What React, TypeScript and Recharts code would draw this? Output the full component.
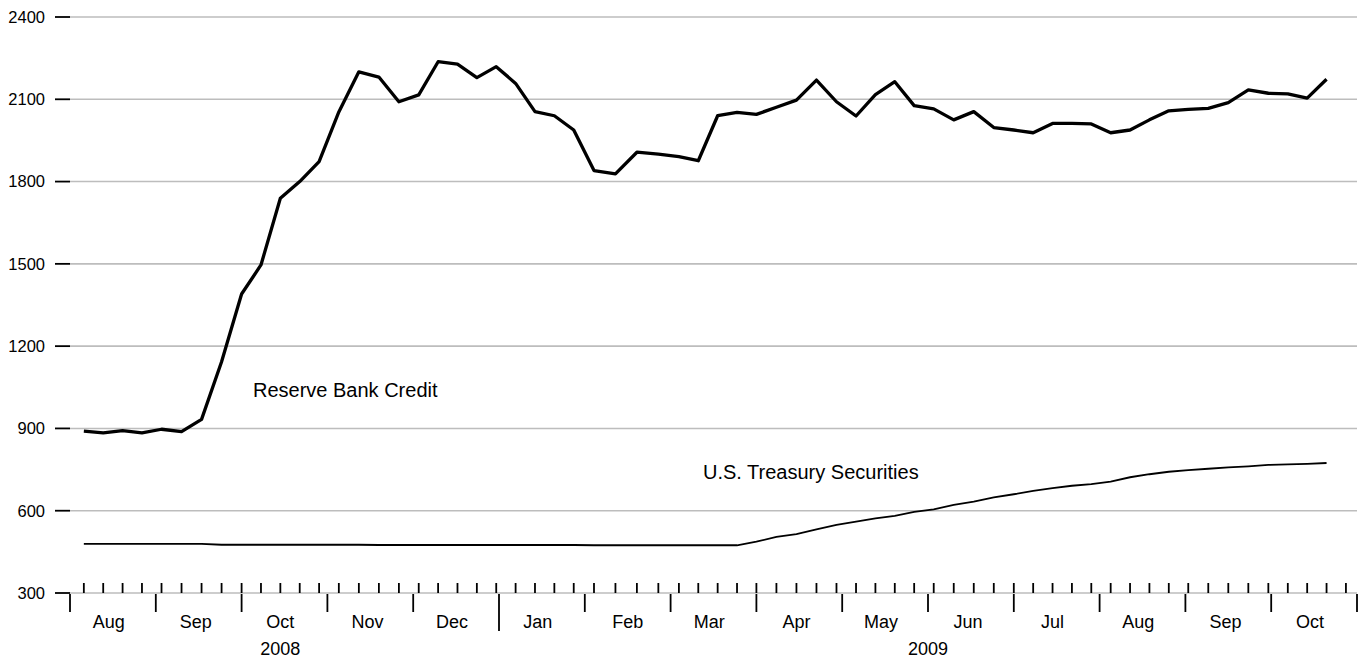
import { LineChart, Line, XAxis, YAxis, CartesianGrid } from 'recharts';

// weekly observations (Wednesdays)
const DATES = [
  '2008-08-06', '2008-08-13', '2008-08-20', '2008-08-27',
  '2008-09-03', '2008-09-10', '2008-09-17', '2008-09-24',
  '2008-10-01', '2008-10-08', '2008-10-15', '2008-10-22', '2008-10-29',
  '2008-11-05', '2008-11-12', '2008-11-19', '2008-11-26',
  '2008-12-03', '2008-12-10', '2008-12-17', '2008-12-24', '2008-12-31',
  '2009-01-07', '2009-01-14', '2009-01-21', '2009-01-28',
  '2009-02-04', '2009-02-11', '2009-02-18', '2009-02-25',
  '2009-03-04', '2009-03-11', '2009-03-18', '2009-03-25',
  '2009-04-01', '2009-04-08', '2009-04-15', '2009-04-22', '2009-04-29',
  '2009-05-06', '2009-05-13', '2009-05-20', '2009-05-27',
  '2009-06-03', '2009-06-10', '2009-06-17', '2009-06-24',
  '2009-07-01', '2009-07-08', '2009-07-15', '2009-07-22', '2009-07-29',
  '2009-08-05', '2009-08-12', '2009-08-19', '2009-08-26',
  '2009-09-02', '2009-09-09', '2009-09-16', '2009-09-23', '2009-09-30',
  '2009-10-07', '2009-10-14', '2009-10-21',
];

const RESERVE_BANK_CREDIT = [
  890, 884, 892, 884, 897, 888, 933, 1143, 1390, 1496, 1739, 1800, 1873,
  2054, 2200, 2181, 2091,
  2116, 2237, 2228, 2179, 2219,
  2158, 2055, 2040, 1988,
  1840, 1828, 1907, 1900,
  1891, 1876, 2040, 2052,
  2045, 2071, 2097, 2170, 2091,
  2039, 2117, 2164, 2077,
  2065, 2025, 2055, 1997,
  1988, 1978, 2012, 2012, 2010,
  1978, 1988, 2025, 2058,
  2063, 2067, 2088, 2134, 2122,
  2120, 2104, 2173,
];

const TREASURY = [
  479, 479, 479, 479, 479, 479, 479, 476,
  476, 476, 476, 476, 476,
  476, 476, 475, 475,
  475, 475, 475, 475, 475,
  475, 475, 475, 475,
  474, 474, 474, 474,
  474, 474, 474, 474,
  487, 505, 515, 532, 548,
  560, 572, 581, 596,
  605, 621, 633, 649,
  660, 672, 682, 691, 697,
  706, 722, 733, 742,
  748, 753, 758, 762, 767,
  769, 771, 774,
];

const EXTRA_TICK_WEEKS = ['2009-10-28'];

const MONTH_LABELS = ['Aug', 'Sep', 'Oct', 'Nov', 'Dec', 'Jan', 'Feb', 'Mar', 'Apr', 'May', 'Jun', 'Jul', 'Aug', 'Sep', 'Oct'];
const MONTH_LABEL_DATES = [
  '2008-08-15', '2008-09-15', '2008-10-15', '2008-11-15', '2008-12-15',
  '2009-01-15', '2009-02-15', '2009-03-15', '2009-04-15', '2009-05-15',
  '2009-06-15', '2009-07-15', '2009-08-15', '2009-09-15', '2009-10-15',
];
const YEAR_LABELS = ['2008', '2009'];
const YEAR_LABEL_DATES = ['2008-10-15', '2009-06-01'];
const Y_TICKS = [300, 600, 900, 1200, 1500, 1800, 2100, 2400];

const FONT = '"Liberation Sans", Arial, Helvetica, sans-serif';

// months are drawn at equal width; position = months since Aug 2008
function pos(d: string) {
  const [y, m, day] = d.split('-').map(Number);
  const dim = new Date(y, m, 0).getDate();
  return (y - 2008) * 12 + (m - 8) + (day - 1) / dim;
}

const data = DATES.map((d, i) => ({
  pos: pos(d),
  rbc: RESERVE_BANK_CREDIT[i],
  ust: TREASURY[i],
}));

const weekTicks = [...DATES, ...EXTRA_TICK_WEEKS].map(pos);
const monthTicks = MONTH_LABELS.map((_, i) => i).concat([MONTH_LABELS.length]);
const monthLabelTicks = MONTH_LABEL_DATES.map(pos);
const yearLabelTicks = YEAR_LABEL_DATES.map(pos);
const yearBoundary = pos('2009-01-01');

// each stacked bottom axis is 1px tall, so later ones sit 1px lower
const WeekTick = ({ x, y }: any) => (
  <line x1={x} x2={x} y1={y - 10} y2={y} stroke="#000" strokeWidth={1.8} />
);

const MonthTick = ({ x, y, payload }: any) => (
  <line
    x1={x}
    x2={x}
    y1={y - 1}
    y2={y - 1 + (Math.abs(payload.value - yearBoundary) < 1e-6 ? 37 : 18)}
    stroke="#000"
    strokeWidth={1.8}
  />
);

const MonthLabel = ({ x, y, index }: any) => (
  <text x={x} y={y + 34} textAnchor="middle" fontSize={18} fontFamily={FONT} fill="#000">
    {MONTH_LABELS[index]}
  </text>
);

const YearLabel = ({ x, y, index }: any) => (
  <text x={x} y={y + 59} textAnchor="middle" fontSize={18} fontFamily={FONT} fill="#000">
    {YEAR_LABELS[index]}
  </text>
);

const stackedAxis = {
  dataKey: 'pos',
  type: 'number' as const,
  domain: [0, 15],
  allowDataOverflow: true,
  height: 1,
  tickSize: 0,
  tickMargin: 0,
  axisLine: false,
  tickLine: false,
  interval: 0 as const,
};

export default function App() {
  return (
    <div style={{ position: 'absolute', left: 0, top: 0, width: 1364, height: 660, background: '#fff' }}>
      <LineChart width={1364} height={660} data={data} margin={{ top: 17, right: 7, bottom: 63, left: 0 }}>
        <CartesianGrid vertical={false} stroke="#bdbdbd" strokeWidth={1.6} />
        <XAxis {...stackedAxis} ticks={weekTicks} tick={<WeekTick />} />
        <XAxis xAxisId="month" {...stackedAxis} ticks={monthTicks} tick={<MonthTick />} />
        <XAxis xAxisId="mlabel" {...stackedAxis} ticks={monthLabelTicks} tick={<MonthLabel />} />
        <XAxis xAxisId="ylabel" {...stackedAxis} ticks={yearLabelTicks} tick={<YearLabel />} />
        <YAxis
          type="number"
          domain={[300, 2400]}
          ticks={Y_TICKS}
          interval={0}
          width={70}
          axisLine={false}
          tickSize={15}
          tickMargin={10}
          tickLine={{ stroke: '#000', strokeWidth: 1.8 }}
          tick={{ fill: '#000', fontSize: 16.5, fontFamily: FONT }}
        />
        <Line
          dataKey="rbc"
          type="linear"
          stroke="#000"
          strokeWidth={3.3}
          dot={false}
          isAnimationActive={false}
          strokeLinejoin="round"
        />
        <Line
          dataKey="ust"
          type="linear"
          stroke="#000"
          strokeWidth={1.8}
          dot={false}
          isAnimationActive={false}
        />
      </LineChart>
      <div style={{ position: 'absolute', left: 253, top: 380, fontSize: 20, lineHeight: 1, fontFamily: FONT, whiteSpace: 'nowrap' }}>
        Reserve Bank Credit
      </div>
      <div style={{ position: 'absolute', left: 703, top: 462, fontSize: 20, lineHeight: 1, fontFamily: FONT, whiteSpace: 'nowrap' }}>
        U.S. Treasury Securities
      </div>
    </div>
  );
}
